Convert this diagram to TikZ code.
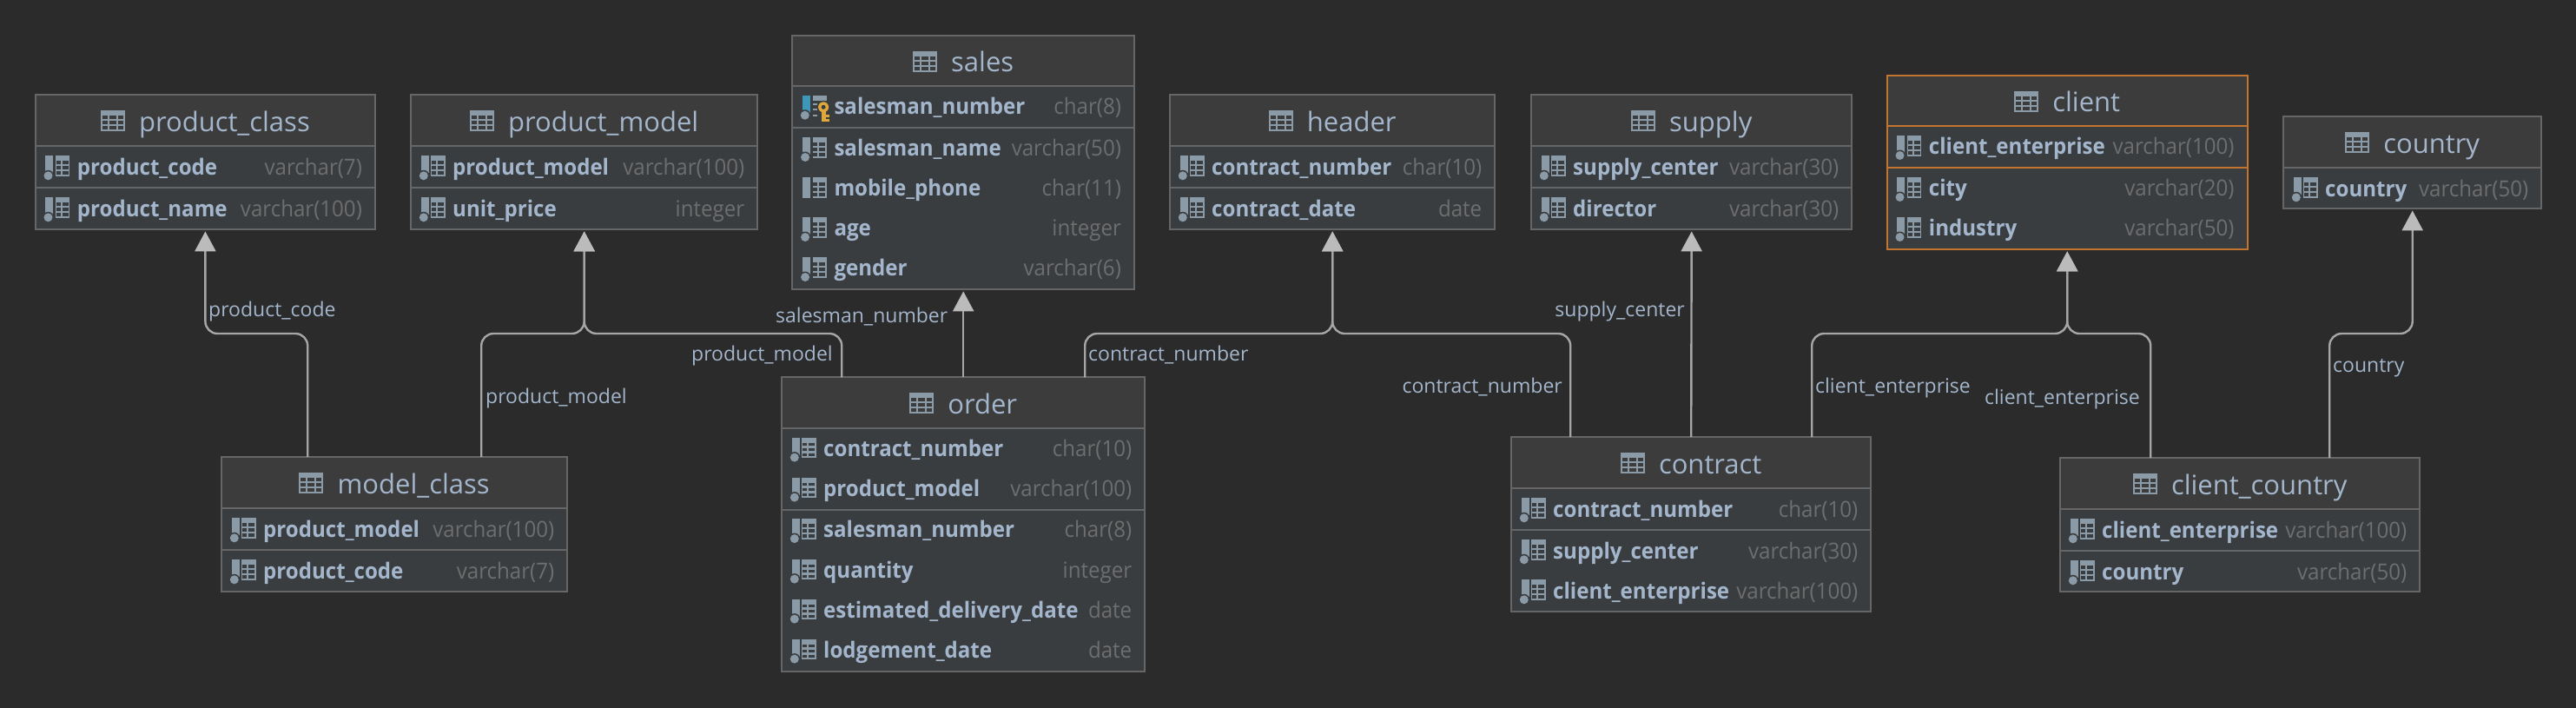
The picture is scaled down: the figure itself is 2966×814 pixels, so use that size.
\documentclass[tikz,border=0pt]{standalone}
\usepackage{fontspec}
\setmainfont{Open Sans}
\newfontfamily\rowfont[FakeStretch=0.945]{Open Sans}
\usetikzlibrary{arrows.meta}

\definecolor{canvasbg}{HTML}{2B2B2B}
\definecolor{headfill}{HTML}{3C3C3C}
\definecolor{rowfill}{HTML}{3A3D40}
\definecolor{boxline}{HTML}{666666}
\definecolor{orangeline}{HTML}{C27530}
\definecolor{nametext}{HTML}{A4B6CC}
\definecolor{typetext}{HTML}{6E6E6E}
\definecolor{iconcol}{HTML}{8A9AA6}
\definecolor{keyblue}{HTML}{3C97B8}
\definecolor{keyyellow}{HTML}{E0A73B}
\definecolor{fkcol}{HTML}{A6A6A6}
\definecolor{tipcol}{HTML}{BBBBBB}

\tikzset{
    tablebody/.style={fill=rowfill,draw=none,inner sep=0pt,anchor=north west},
    tabletitle/.style={inner sep=0pt,anchor=base,text=nametext,font=\fontsize{31}{36}\selectfont},
    colname/.style={inner sep=0pt,anchor=base west,text=nametext,font=\fontsize{25.5}{30}\rowfont\bfseries},
    coltype/.style={inner sep=0pt,anchor=base east,text=typetext,font=\fontsize{25.5}{30}\rowfont},
    fkline/.style={draw=fkcol,line width=2.4pt,rounded corners=14pt,shorten >=2pt,
        -{Triangle[width=24pt,length=23pt,color=tipcol]}},
    fklabel/.style={inner sep=0pt,text=nametext,font=\fontsize{23}{28}\selectfont},
    tabicon/.pic={
        \fill[iconcol] (0,0) rectangle (28,24);
        \foreach \ry in {6,12,18}
            \foreach \rx/\rw in {2/6,10/8,20/6}
                \fill[headfill] (\rx,\ry) rectangle +(\rw,4);
    },
    gridpart/.pic={
        \fill[iconcol] (11.7,0) rectangle (28,23.5);
        \foreach \ry in {6,12,18}
            \foreach \rx/\rw in {12.5/5,19.5/7}
                \fill[rowfill] (\rx,\ry) rectangle +(\rw,3.5);
    },
    colicon/.pic={
        \fill[iconcol] (0,0) rectangle (9,20);
        \fill[rowfill] (3.3,23) circle (6.5);
        \fill[iconcol] (3.3,23) circle (5);
        \pic at (0,0) {gridpart};
    },
    plainicon/.pic={
        \fill[iconcol] (0,0) rectangle (9,23.5);
        \pic at (0,0) {gridpart};
    },
    keyicon/.pic={
        \fill[keyblue] (0,0) rectangle (9.3,20);
        \fill[rowfill] (3,22.7) circle (6.5);
        \fill[iconcol] (3,22.7) circle (5);
        \fill[iconcol] (11.7,0) rectangle (28.3,6);
        \fill[iconcol] (11.7,9.3) rectangle (17.5,11);
        \fill[iconcol] (11.7,15.3) rectangle (17.5,17);
        \fill[iconcol] (11.7,21.8) rectangle (17.5,23.5);
        \fill[rowfill] (24.3,13.3) circle (7.5);
        \fill[keyyellow] (24.3,13.3) circle (6);
        \fill[rowfill] (24.3,13.3) circle (2.5);
        \fill[keyyellow] (21.7,18) rectangle (27,30);
        \fill[keyyellow] (27,22) rectangle (30.7,25);
        \fill[keyyellow] (27,27) rectangle (30.7,30);
    },
}

% #1 line colour, #2 name, #3 top left, #4 width, #5 height, #6 key line, #7 title, #8 rows
\newcommand{\dbtable}[8][boxline]{
    \node[tablebody,minimum width=#4pt,minimum height=#5pt] (#2) at (#3) {};
    \fill[headfill] (#2.north west) rectangle ([yshift=-58.5pt]#2.north east);
    \draw[#1,line width=2pt] ([yshift=-58.5pt]#2.north west) -- ([yshift=-58.5pt]#2.north east);
    \draw[#1,line width=2pt] ([yshift=-#6pt]#2.north west) -- ([yshift=-#6pt]#2.north east);
    \draw[#1,line width=2pt] (#2.north west) rectangle (#2.south east);
    \node[tabletitle] (#2-title) at ([xshift=22pt,yshift=-42pt]#2.north) {#7};
    \pic at ([xshift=-44pt,yshift=24pt]#2-title.base west) {tabicon};
    \foreach \off/\ic/\cname/\ctype [count=\r] in {#8} {
        \pic at ([xshift=11.5pt,yshift=-\off pt + 21.7pt]#2.north west) {\ic};
        \node[colname] (#2-\r-name) at ([xshift=48pt,yshift=-\off pt]#2.north west) {\cname};
        \node[coltype] (#2-\r-type) at ([xshift=-15pt,yshift=-\off pt]#2.north east) {\ctype};
    }
}

\begin{document}
\begin{tikzpicture}[x=1pt,y=-1pt]
    \useasboundingbox (0,0) rectangle (2966,814);
    \fill[canvasbg] (-4,-4) rectangle (2970,818);
    \coordinate (bus) at (0,384);

    \dbtable{product_class}{40.7,109}{391}{155}{107}{product\_class}{
        92/colicon/product\_code/varchar(7),
        140/colicon/product\_name/varchar(100)}
    \dbtable{product_model}{473,109}{399}{155}{107}{product\_model}{
        92/colicon/product\_model/varchar(100),
        140/colicon/unit\_price/integer}
    \dbtable{sales}{912.3,40.7}{393.4}{292.3}{106.5}{sales}{
        91/keyicon/salesman\_number/char(8),
        139/colicon/salesman\_name/varchar(50),
        185/plainicon/mobile\_phone/char(11),
        231/colicon/age/integer,
        277/colicon/gender/varchar(6)}
    \dbtable{header}{1347,109}{374}{155}{107}{header}{
        92/colicon/contract\_number/char(10),
        140/colicon/contract\_date/date}
    \dbtable{supply}{1763,109}{369}{155}{107}{supply}{
        92/colicon/supply\_center/varchar(30),
        140/colicon/director/varchar(30)}
    \dbtable[orangeline]{client}{2172.7,86.7}{414.6}{200.3}{106.5}{client}{
        91/colicon/client\_enterprise/varchar(100),
        139/colicon/city/varchar(20),
        185/colicon/industry/varchar(50)}
    \dbtable{country}{2629,134}{297}{106}{58.5}{country}{
        92/colicon/country/varchar(50)}
    \dbtable{model_class}{255,526}{398}{155}{107}{model\_class}{
        92/colicon/product\_model/varchar(100),
        140/colicon/product\_code/varchar(7)}
    \dbtable{order}{900,434.3}{418}{338.5}{152.5}{order}{
        91/colicon/contract\_number/char(10),
        137/colicon/product\_model/varchar(100),
        184.5/colicon/salesman\_number/char(8),
        231/colicon/quantity/integer,
        277/colicon/estimated\_delivery\_date/date,
        323/colicon/lodgement\_date/date}
    \dbtable{contract}{1740,503}{414}{201}{107}{contract}{
        92/colicon/contract\_number/char(10),
        140/colicon/supply\_center/varchar(30),
        186/colicon/client\_enterprise/varchar(100)}
    \dbtable{client_country}{2372,527}{414}{154}{107}{client\_country}{
        92/colicon/client\_enterprise/varchar(100),
        140/colicon/country/varchar(50)}

    % foreign keys
    \draw[fkline] ([xshift=-100pt]model_class.north) |- (bus -| product_class.south) -- (product_class.south);
    \draw[fkline] ([xshift=100pt]model_class.north) |- (bus -| product_model.south) -- (product_model.south);
    \draw[fkline] ([xshift=-140pt]order.north) |- (bus -| product_model.south) -- (product_model.south);
    \draw[fkline] (order.north) -- (sales.south);
    \draw[fkline] ([xshift=140pt]order.north) |- (bus -| header.south) -- (header.south);
    \draw[fkline] ([xshift=-139pt]contract.north) |- (bus -| header.south) -- (header.south);
    \draw[fkline] (contract.north) -- (supply.south);
    \draw[fkline] ([xshift=139pt]contract.north) |- (bus -| client.south) -- (client.south);
    \draw[fkline] ([xshift=-103pt]client_country.north) |- (bus -| client.south) -- (client.south);
    \draw[fkline] ([xshift=103pt]client_country.north) |- (bus -| country.south) -- (country.south);

    \node[fklabel,anchor=base west] (lab_code) at (240,364) {product\_code};
    \node[fklabel,anchor=base west] (lab_model_a) at (559,464) {product\_model};
    \node[fklabel,anchor=base east] (lab_model_b) at (959,415) {product\_model};
    \node[fklabel,anchor=base west] (lab_sales) at (893,371.7) {salesman\_number};
    \node[fklabel,anchor=base west] (lab_num_a) at (1253,415) {contract\_number};
    \node[fklabel,anchor=base east] (lab_num_b) at (1799,452) {contract\_number};
    \node[fklabel,anchor=base east] (lab_supply) at (1940,364) {supply\_center};
    \node[fklabel,anchor=base west] (lab_ent_a) at (2090,452) {client\_enterprise};
    \node[fklabel,anchor=base east] (lab_ent_b) at (2464,465) {client\_enterprise};
    \node[fklabel,anchor=base west] (lab_country) at (2686,428) {country};
\end{tikzpicture}
\end{document}
